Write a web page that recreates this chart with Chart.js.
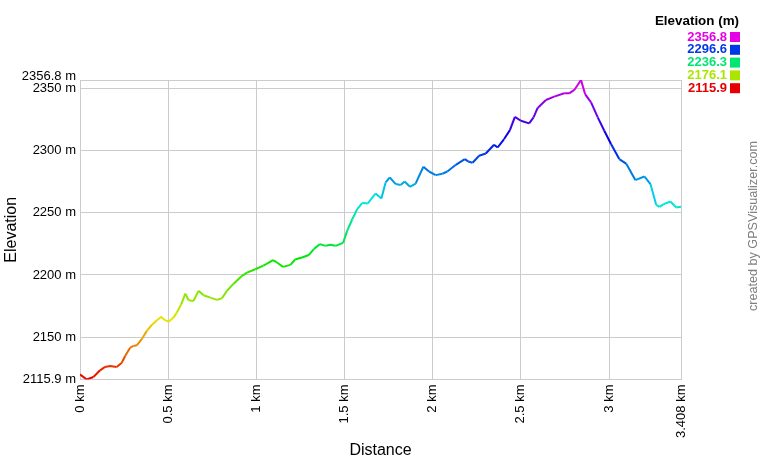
<!DOCTYPE html>
<html>
<head>
<meta charset="utf-8">
<title>Elevation profile</title>
<script src="https://cdn.jsdelivr.net/npm/chart.js@4"></script>
<style>
    body { margin: 0; background: #fff; }
</style>
</head>
<body>
<canvas id="profileChart" width="760" height="460"></canvas>
<script>
"use strict";

// distance along the track (km)
const distances = [0, 0.038, 0.076, 0.114, 0.142, 0.170, 0.208, 0.237, 0.256, 0.284,
    0.303, 0.322, 0.350, 0.379, 0.407, 0.436, 0.460, 0.483, 0.502, 0.530,
    0.549, 0.574, 0.597, 0.616, 0.644, 0.672, 0.701, 0.739, 0.777, 0.805,
    0.833, 0.871, 0.919, 0.947, 0.994, 1.040, 1.061, 1.095, 1.117, 1.151,
    1.193, 1.222, 1.260, 1.297, 1.326, 1.360, 1.392, 1.420, 1.449, 1.492,
    1.515, 1.544, 1.572, 1.600, 1.632, 1.676, 1.709, 1.733, 1.757, 1.790,
    1.818, 1.841, 1.871, 1.903, 1.947, 1.979, 2.017, 2.055, 2.083, 2.131,
    2.182, 2.201, 2.226, 2.263, 2.301, 2.348, 2.368, 2.405, 2.438, 2.466,
    2.500, 2.547, 2.572, 2.595, 2.642, 2.689, 2.746, 2.774, 2.803, 2.841,
    2.864, 2.898, 2.936, 2.973, 3.011, 3.058, 3.097, 3.149, 3.200, 3.235,
    3.267, 3.286, 3.310, 3.348, 3.381, 3.408];

// elevation (m)
const elevations = [2120, 2115.9, 2117.9, 2123.3, 2126, 2126.8, 2126, 2129.4, 2134.8, 2141.5,
    2142.9, 2143.4, 2148.3, 2155, 2159.8, 2163.6, 2166.2, 2163.6, 2162.4, 2165.7,
    2169.7, 2176.4, 2185, 2179.7, 2179.1, 2187.2, 2183.7, 2181.8, 2179.9, 2181.3,
    2187.2, 2193, 2199.3, 2201.9, 2204.6, 2207.5, 2209.2, 2211.9, 2210, 2206.5,
    2208.1, 2212.7, 2214, 2216, 2220.8, 2224.8, 2223.4, 2224.2, 2223.4, 2225.8,
    2235.5, 2244.8, 2252.9, 2257.8, 2257.5, 2265.5, 2261.5, 2274.4, 2278.4, 2273.1,
    2272.3, 2275.2, 2270.9, 2273.5, 2287, 2283.2, 2280.3, 2281.4, 2283.2, 2288.6,
    2293.2, 2291.3, 2290.2, 2295.9, 2297.7, 2304.7, 2302.5, 2309.3, 2316.5, 2327.2,
    2324, 2321.9, 2326.7, 2334.3, 2340.7, 2343.4, 2346.1, 2346.1, 2348.8, 2356.8,
    2345.5, 2338.8, 2326.7, 2316, 2305.3, 2293.2, 2289.6, 2276.3, 2279.2, 2273.1,
    2256.4, 2254.8, 2257, 2259.1, 2254.3, 2254.8];

const yTickValues = [2115.9, 2150, 2200, 2250, 2300, 2350, 2356.8];
const xTickValues = [0, 0.5, 1, 1.5, 2, 2.5, 3, 3.408];
const legendValues = [2356.8, 2296.6, 2236.3, 2176.1, 2115.9];

const ELEV_MIN = 2115.9;
const ELEV_MAX = 2356.8;
const FONT = "'Liberation Sans', Arial, sans-serif";

// red at the lowest point, magenta at the highest
const elevationColour = (v) => {
    let t = (v - ELEV_MIN) / (ELEV_MAX - ELEV_MIN);
    t = Math.max(0, Math.min(1, t));
    return 'hsl(' + (t * 300).toFixed(1) + ', 100%, 45%)';
};

const points = distances.map((d, i) => ({x: d, y: elevations[i]}));

const overlayPlugin = {
    id: 'overlay',
    afterDraw: (chart) => {
        const ctx = chart.ctx;
        ctx.save();

        // max label sits a little above its grid line so it clears "2350 m"
        ctx.textAlign = 'right';
        ctx.textBaseline = 'middle';
        ctx.fillStyle = '#000';
        ctx.font = '13px ' + FONT;
        ctx.fillText(ELEV_MAX + ' m', 76, chart.scales.y.getPixelForValue(ELEV_MAX) - 4);

        // colour legend, top right
        ctx.font = 'bold 13.4px ' + FONT;
        ctx.fillText('Elevation (m)', 739, 21);
        ctx.font = 'bold 13px ' + FONT;
        legendValues.forEach((v, i) => {
            const y = 37 + i * 12.8;
            ctx.fillStyle = elevationColour(v);
            ctx.fillText(v.toFixed(1), 727, y);
            ctx.fillRect(730, y - 5, 10, 10);
        });

        // credit line on the right edge
        ctx.translate(754, 226);
        ctx.rotate(-Math.PI / 2);
        ctx.textAlign = 'center';
        ctx.fillStyle = '#808080';
        ctx.font = '12.6px ' + FONT;
        ctx.fillText('created by GPSVisualizer.com', 0, 0);

        ctx.restore();
    }
};

new Chart(document.getElementById('profileChart'), {
    type: 'line',
    data: {
        datasets: [{
            data: points,
            borderWidth: 2,
            pointRadius: 0,
            tension: 0,
            fill: false,
            segment: {
                borderColor: (seg) => elevationColour((seg.p0.parsed.y + seg.p1.parsed.y) / 2)
            }
        }]
    },
    options: {
        responsive: false,
        animation: false,
        layout: {
            padding: {top: 80, right: 79, left: 0, bottom: 0}
        },
        plugins: {
            legend: {display: false},
            tooltip: {enabled: false}
        },
        scales: {
            x: {
                type: 'linear',
                min: 0,
                max: 3.408,
                afterFit: (scale) => { scale.height = 80.5; },
                afterBuildTicks: (scale) => {
                    scale.ticks = xTickValues.map(v => ({value: v}));
                },
                grid: {color: '#cccccc', drawTicks: false},
                border: {color: '#cccccc'},
                ticks: {
                    autoSkip: false,
                    minRotation: 90,
                    maxRotation: 90,
                    padding: 5,
                    color: '#000',
                    font: {family: FONT, size: 13},
                    callback: (v) => v + ' km'
                },
                title: {
                    display: true,
                    text: 'Distance',
                    color: '#000',
                    font: {family: FONT, size: 16},
                    padding: {top: 0, bottom: 0}
                }
            },
            y: {
                min: ELEV_MIN,
                max: ELEV_MAX,
                afterFit: (scale) => { scale.width = 80; },
                afterBuildTicks: (scale) => {
                    scale.ticks = yTickValues.map(v => ({value: v}));
                },
                grid: {color: '#cccccc', drawTicks: false},
                border: {color: '#cccccc'},
                ticks: {
                    autoSkip: false,
                    padding: 4,
                    color: '#000',
                    font: {family: FONT, size: 13},
                    callback: (v) => (v === ELEV_MAX ? '' : v + ' m')
                },
                title: {
                    display: true,
                    text: 'Elevation',
                    color: '#000',
                    font: {family: FONT, size: 16},
                    padding: {top: 2, bottom: 0}
                }
            }
        }
    },
    plugins: [overlayPlugin]
});
</script>
</body>
</html>
